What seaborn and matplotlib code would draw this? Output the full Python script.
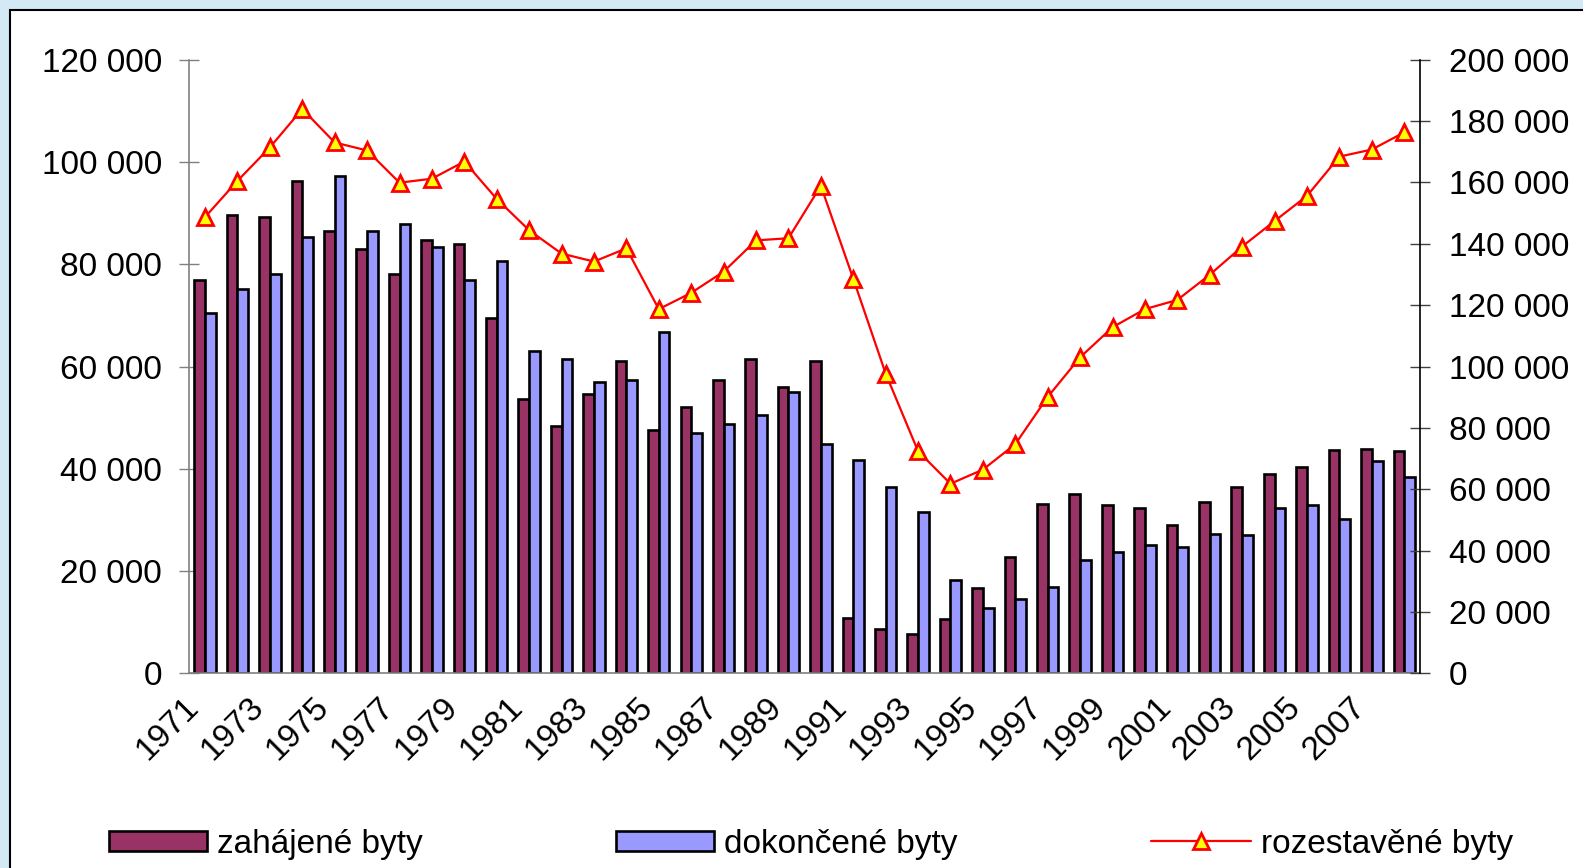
import numpy as np
import pandas as pd
import matplotlib
matplotlib.use("Agg")
import matplotlib.pyplot as plt
import seaborn as sns
from matplotlib.patches import Rectangle, Patch
from matplotlib.lines import Line2D
from matplotlib.ticker import FuncFormatter, MultipleLocator

# ---------------- data ----------------
years = list(range(1971, 2009))
zahajene = [77000, 89600, 89200, 96300, 86400, 82900, 78100, 84700, 83900, 69500,
            53700, 48300, 54700, 61000, 47600, 52100, 57400, 61400, 56000, 61000,
            10900, 8600, 7700, 10700, 16600, 22700, 33200, 35000, 32900, 32400,
            29000, 33600, 36500, 39000, 40400, 43700, 43800, 43500]
dokoncene = [70400, 75200, 78100, 85400, 97300, 86400, 87800, 83400, 77000, 80700,
             63100, 61400, 56900, 57300, 66700, 47000, 48800, 50600, 55100, 44800,
             41700, 36400, 31500, 18200, 12700, 14500, 16800, 22200, 23700, 25200,
             24800, 27300, 27100, 32300, 32900, 30200, 41600, 38400]
rozestavene = [148700, 160500, 171400, 183900, 173000, 170400, 159900, 161200, 166800, 154600,
               144400, 136800, 134200, 138500, 118700, 124000, 130900, 141100, 141800, 158900,
               128600, 97700, 72400, 61800, 66400, 74700, 90100, 103000, 112800, 118700,
               121700, 129900, 139100, 147400, 155600, 168400, 170700, 176300]
series_names = ["zahájené byty", "dokončené byty", "rozestavěné byty"]
tick_years = [str(y) for y in years[::2]]

n = len(years)
df = pd.DataFrame({
    "rok": [str(y) for y in years] * 2,
    "pocet": zahajene + dokoncene,
    "rada": [series_names[0]] * n + [series_names[1]] * n,
})

# ---------------- style ----------------
sns.set_theme(style="white")
plt.rcParams["font.family"] = ["Liberation Sans", "DejaVu Sans"]
plt.rcParams["text.color"] = "black"

W, H = 1583, 868
fig = plt.figure(figsize=(W / 100, H / 100), dpi=100, facecolor="#D4E9F6")
fig.add_artist(Rectangle((10 / W, -0.02), 1.2, 1 - 10 / H + 0.02,
                         transform=fig.transFigure, facecolor="white",
                         edgecolor="black", lw=1.5, zorder=-5))

left, right, bottom, top = 0.1193, 0.8973, 0.2242, 0.9313
ax = fig.add_axes([left, bottom, right - left, top - bottom])
ax.set_facecolor("none")

maroon, lav = "#993366", "#9999FF"
sns.barplot(data=df, x="rok", y="pocet", hue="rada", hue_order=series_names[:2],
            palette=[maroon, lav], saturation=1, width=0.66,
            edgecolor="black", linewidth=1.9, legend=False, ax=ax)

ax2 = ax.twinx()
sns.lineplot(x=np.arange(n), y=rozestavene, ax=ax2, color="red", lw=1.6,
             marker="^", markersize=12, markerfacecolor="yellow",
             markeredgecolor="red", markeredgewidth=2)

ax.set_xlim(-0.5, n - 0.5)
ax.set_ylim(0, 120000)
ax2.set_ylim(0, 200000)
ax.set_xlabel("")
ax.set_ylabel("")
ax2.set_ylabel("")

fmt = FuncFormatter(lambda v, p: f"{int(round(v)):,}".replace(",", " "))
ax.yaxis.set_major_locator(MultipleLocator(20000))
ax2.yaxis.set_major_locator(MultipleLocator(20000))
ax.yaxis.set_major_formatter(fmt)
ax2.yaxis.set_major_formatter(fmt)

# x ticks at category boundaries, labels at every other category centre
ax.set_xticks(np.arange(-0.5, n, 1.0), labels=[""] * (n + 1))
ax.set_xticks(np.arange(0, n, 2), labels=tick_years, minor=True)
ax.tick_params(axis="x", which="major", direction="inout", length=14,
               width=1, color="#808080")
ax.tick_params(axis="x", which="minor", length=0, labelsize=24, pad=29,
               labelcolor="black")
for lab in ax.get_xticklabels(minor=True):
    lab.set_rotation(45)
    lab.set_ha("right")
    lab.set_va("bottom")
    lab.set_rotation_mode("anchor")

ax.tick_params(axis="y", direction="inout", length=14, width=1,
               color="#808080", labelsize=24, pad=12.5, left=True,
               labelcolor="black")
ax2.tick_params(axis="y", direction="inout", length=14, width=1,
                color="#404040", labelsize=24, pad=13.5, right=True,
                labelcolor="black")

for s in ["top", "right"]:
    ax.spines[s].set_visible(False)
ax.spines["left"].set_color("#808080")
ax.spines["bottom"].set_color("#808080")
for s in ["top", "left", "bottom"]:
    ax2.spines[s].set_visible(False)
ax2.spines["right"].set_color("black")
for s in ["left", "bottom"]:
    ax.spines[s].set_linewidth(1.2)
ax2.spines["right"].set_linewidth(1.2)

# ---------------- legend ----------------
common = dict(loc="center left", frameon=False, fontsize=24, handletextpad=0.3,
              borderpad=0, borderaxespad=0, labelcolor="black")
h1 = Patch(facecolor=maroon, edgecolor="black", lw=1.9)
h2 = Patch(facecolor=lav, edgecolor="black", lw=1.9)
h3 = Line2D([], [], color="red", lw=1.6, marker="^", markersize=12,
            markerfacecolor="yellow", markeredgecolor="red", markeredgewidth=2)
ly = 0.0276
fig.legend(handles=[h1], labels=[series_names[0]], bbox_to_anchor=(0.0689, ly),
           handlelength=2.95, handleheight=0.55, **common)
fig.legend(handles=[h2], labels=[series_names[1]], bbox_to_anchor=(0.389, ly),
           handlelength=2.95, handleheight=0.55, **common)
fig.legend(handles=[h3], labels=[series_names[2]], bbox_to_anchor=(0.727, ly),
           handlelength=3.0, **common)

fig.savefig("out.png", dpi=100, facecolor=fig.get_facecolor())
